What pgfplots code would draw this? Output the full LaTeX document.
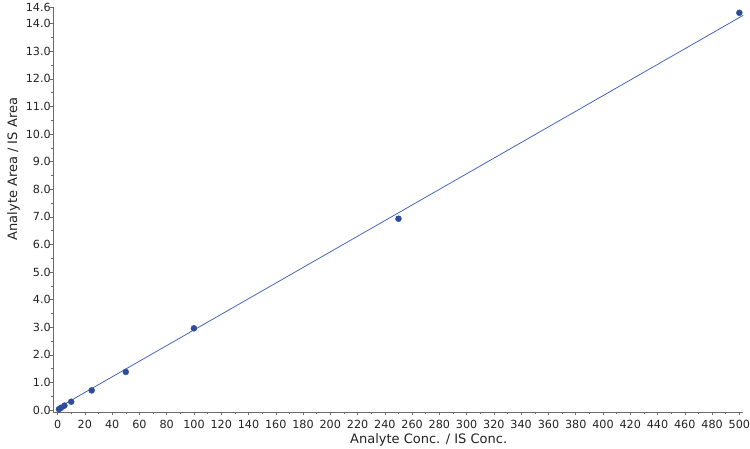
\documentclass[border=0pt]{standalone}
\usepackage{pgfplots}
\pgfplotsset{compat=1.18}
\usepackage{fontspec}
\setmainfont{DejaVu Sans}
\definecolor{linecol}{HTML}{3D5FB8}
\definecolor{markcol}{HTML}{2E4C9C}
\definecolor{axcol}{HTML}{6A6A6A}
\definecolor{txtcol}{HTML}{222222}
\begin{document}
\begin{tikzpicture}
\path[use as bounding box] (-53.3pt,-35.7pt) rectangle (696.7pt,412.3pt);
\begin{axis}[
  at={(0,0)}, anchor=south west,
  scale only axis, width=690pt, height=405.3pt,
  xmin=-3.15, xmax=502.9, ymin=-0.083, ymax=14.6,
  axis x line*=bottom, axis y line*=left,
  axis line style={axcol, line width=0.6pt},
  tick style={axcol, line width=0.5pt},
  tick align=outside,
  major tick length=3pt, minor tick length=2pt,
  xtick={0,20,...,500}, minor x tick num=1,
  ytick={0,1,...,14,14.6},
  minor ytick={0.5,1.5,...,13.5},
  /pgf/number format/assume math mode=true,
  yticklabel style={/pgf/number format/fixed, /pgf/number format/fixed zerofill, /pgf/number format/precision=1},
  xticklabel style={/pgf/number format/fixed, /pgf/number format/precision=0},
  ticklabel style={font=\fontsize{11.2}{13}\selectfont, text=txtcol},
  every y tick label/.append style={xshift=4pt},
  every x tick label/.append style={yshift=-1.5pt},
  xlabel={Analyte Conc. / IS Conc.},
  ylabel={Analyte Area / IS Area},
  label style={font=\fontsize{13}{15}\selectfont, text=txtcol},
  xlabel style={at={(axis description cs:0.544,-0.068)}, anchor=center},
  ylabel style={at={(axis description cs:-0.0575,0.6)}, anchor=center},
  clip=false,
]
\addplot[linecol, line width=0.75pt] coordinates {(0,0.07) (502.9,14.30)};
\addplot[only marks, mark=*, mark size=3pt, mark options={fill=markcol, draw=markcol}] coordinates {
(1,0.03) (2.5,0.08) (5,0.16) (10,0.30) (25,0.71) (50,1.38) (100,2.96) (250,6.93) (500,14.39)
};
\end{axis}
\end{tikzpicture}
\end{document}
